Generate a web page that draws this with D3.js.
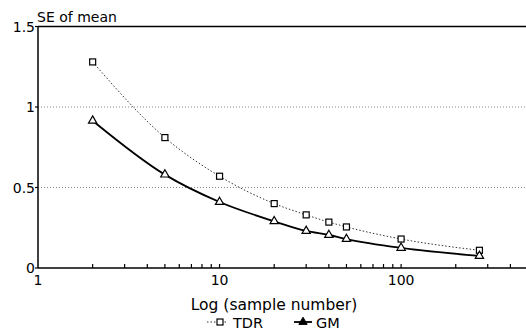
<!DOCTYPE html>
<html>
<head>
<meta charset="utf-8">
<script src="https://d3js.org/d3.v7.min.js"></script>
<style>
  body { margin: 0; background: #fff; }
  text { font-family: "DejaVu Sans", sans-serif; fill: #000; }
</style>
</head>
<body>
<svg width="526" height="331"></svg>
<script>
// sample numbers and standard errors
var samples = [2, 5, 10, 20, 30, 40, 50, 100, 270];
var tdr = [1.28, 0.81, 0.57, 0.40, 0.33, 0.285, 0.255, 0.18, 0.11];
var gm = [0.915, 0.58, 0.41, 0.29, 0.23, 0.205, 0.18, 0.125, 0.075];
var yTicks = [0, 0.5, 1, 1.5];
var xLabels = [1, 10, 100];
var minorTicks = [2, 3, 4, 5, 6, 7, 8, 9, 20, 30, 40, 50, 60, 70, 80, 90, 200, 300, 400];

var svg = d3.select("svg");
var plotL = 38, plotR = 528, plotT = 26.5, plotB = 268;

var x = d3.scaleLog().domain([1, 500]).range([plotL, plotR]);
var y = d3.scaleLinear().domain([0, 1.5]).range([plotB, plotT]);

// dotted grid lines at 0.5 and 1
svg.selectAll(".grid")
    .data([0.5, 1])
    .enter().append("line")
    .attr("x1", plotL).attr("x2", 526)
    .attr("y1", function(d) { return y(d); })
    .attr("y2", function(d) { return y(d); })
    .attr("stroke", "#888")
    .attr("stroke-width", 1)
    .attr("stroke-dasharray", "1,2");

// frame: top, left, bottom
svg.append("line").attr("x1", plotL).attr("x2", 526).attr("y1", y(1.5)).attr("y2", y(1.5))
    .attr("stroke", "#000").attr("stroke-width", 1.5);
svg.append("line").attr("x1", plotL).attr("x2", plotL).attr("y1", y(1.5)).attr("y2", plotB)
    .attr("stroke", "#000").attr("stroke-width", 1.5);
svg.append("line").attr("x1", plotL).attr("x2", 526).attr("y1", plotB).attr("y2", plotB)
    .attr("stroke", "#000").attr("stroke-width", 1.5);

// inward ticks on log axis
svg.selectAll(".minor")
    .data(minorTicks.concat([10, 100]))
    .enter().append("line")
    .attr("x1", function(d) { return x(d); })
    .attr("x2", function(d) { return x(d); })
    .attr("y1", plotB).attr("y2", plotB - 4)
    .attr("stroke", "#000").attr("stroke-width", 1.2);

// y ticks and labels
svg.selectAll(".ytick")
    .data(yTicks)
    .enter().append("line")
    .attr("x1", plotL - 3).attr("x2", plotL)
    .attr("y1", function(d) { return y(d); })
    .attr("y2", function(d) { return y(d); })
    .attr("stroke", "#000").attr("stroke-width", 1.2);

svg.selectAll(".ylab")
    .data(yTicks)
    .enter().append("text")
    .attr("x", plotL - 3)
    .attr("y", function(d) { return y(d) + 5; })
    .attr("text-anchor", "end")
    .style("font-size", "14px")
    .text(function(d) { return d; });

svg.selectAll(".xlab")
    .data(xLabels)
    .enter().append("text")
    .attr("x", function(d) { return x(d); })
    .attr("y", 285)
    .attr("text-anchor", "middle")
    .style("font-size", "14px")
    .text(function(d) { return d; });

svg.append("text").attr("x", 37).attr("y", 22)
    .style("font-size", "14px").text("SE of mean");

svg.append("text").attr("x", 274).attr("y", 310)
    .attr("text-anchor", "middle")
    .style("font-size", "15.5px").text("Log (sample number)");

// curves
var lineGen = function(vals) {
    return d3.line()
        .x(function(d, i) { return x(samples[i]); })
        .y(function(d) { return y(d); })
        .curve(d3.curveMonotoneX)(vals);
};

svg.append("path").attr("d", lineGen(tdr))
    .attr("fill", "none").attr("stroke", "#333")
    .attr("stroke-width", 1).attr("stroke-dasharray", "1.5,2");

svg.append("path").attr("d", lineGen(gm))
    .attr("fill", "none").attr("stroke", "#000")
    .attr("stroke-width", 1.8);

// markers
svg.selectAll(".sq")
    .data(tdr)
    .enter().append("rect")
    .attr("x", function(d, i) { return x(samples[i]) - 3; })
    .attr("y", function(d) { return y(d) - 3; })
    .attr("width", 6).attr("height", 6)
    .attr("fill", "#fff").attr("stroke", "#000").attr("stroke-width", 1.2);

var tri = d3.symbol().type(d3.symbolTriangle).size(30);
svg.selectAll(".tri")
    .data(gm)
    .enter().append("path")
    .attr("d", tri)
    .attr("transform", function(d, i) { return "translate(" + x(samples[i]) + "," + y(d) + ")"; })
    .attr("fill", "#fff").attr("stroke", "#000").attr("stroke-width", 1.2);

// legend
var ly = 322;
svg.append("line").attr("x1", 207).attr("x2", 228).attr("y1", ly).attr("y2", ly)
    .attr("stroke", "#333").attr("stroke-width", 1).attr("stroke-dasharray", "1.5,2");
svg.append("rect").attr("x", 217).attr("y", ly - 3).attr("width", 6).attr("height", 6)
    .attr("fill", "#fff").attr("stroke", "#000").attr("stroke-width", 1.2);
svg.append("text").attr("x", 233).attr("y", ly + 5.5).style("font-size", "14.5px").text("TDR");

svg.append("line").attr("x1", 294).attr("x2", 312).attr("y1", ly).attr("y2", ly)
    .attr("stroke", "#000").attr("stroke-width", 1.8);
svg.append("path").attr("d", tri).attr("transform", "translate(303," + ly + ")")
    .attr("fill", "#000").attr("stroke", "#000");
svg.append("text").attr("x", 316).attr("y", ly + 5.5).style("font-size", "14.5px").text("GM");
</script>
</body>
</html>
